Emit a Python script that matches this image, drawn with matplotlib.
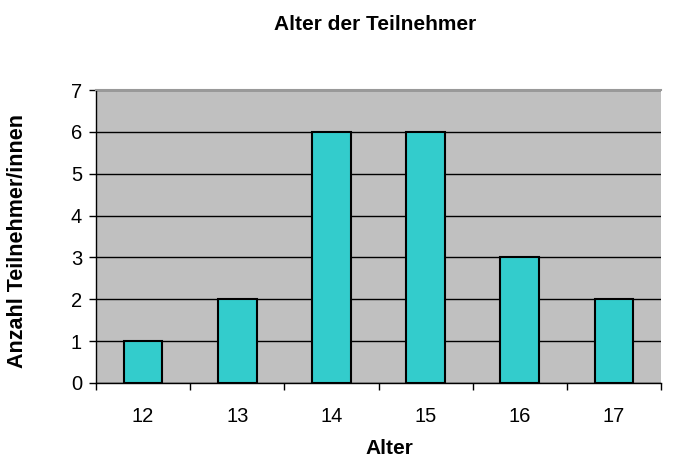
import matplotlib
matplotlib.use("Agg")
import matplotlib.pyplot as plt
import numpy as np

plt.rcParams['font.family'] = ['Liberation Sans', 'DejaVu Sans']

# === Daten ===
alter = ['12', '13', '14', '15', '16', '17']
anzahl = [1, 2, 6, 6, 3, 2]

W, H = 679, 462
fig = plt.figure(figsize=(W / 100, H / 100), dpi=100)
ax = fig.add_axes([96 / W, 79 / H, 565 / W, 293 / H])
ax.set_facecolor('#C0C0C0')

x = np.arange(len(alter))
ax.bar(x, anzahl, width=0.41, color='#33CCCC', edgecolor='black', linewidth=1.5, zorder=3)

ax.set_xlim(-0.5, len(alter) - 0.5)
ax.set_ylim(0, 7)
ax.set_yticks(range(0, 8))
ax.yaxis.grid(True, color='black', linewidth=1, zorder=1)
ax.set_axisbelow(True)

# Striche zwischen den Kategorien
ax.set_xticks(np.arange(-0.5, len(alter) + 0.5, 1))
ax.set_xticklabels([])
ax.set_xticks(x, minor=True)
ax.set_xticklabels(alter, minor=True)
ax.tick_params(axis='x', which='minor', length=0, pad=17, labelsize=14.5)
ax.tick_params(axis='x', which='major', length=5, width=1, direction='out')
ax.tick_params(axis='y', length=5, width=1, direction='out', labelsize=14.5, pad=5)

ax.spines['right'].set_visible(False)
ax.spines['top'].set_color('#999999')
ax.spines['top'].set_linewidth(1.5)
ax.spines['left'].set_linewidth(1)
ax.spines['bottom'].set_linewidth(1)

fig.text(389.5 / W, 1 - 448 / H, 'Alter', ha='center', va='center',
         fontsize=15, fontweight='bold')
fig.text(17.5 / W, 1 - 241 / H, 'Anzahl Teilnehmer/innen', ha='center', va='center',
         rotation=90, fontsize=15.5, fontweight='bold')
fig.text(375 / W, 1 - 25 / H, 'Alter der Teilnehmer',
         ha='center', va='center', fontsize=15, fontweight='bold')

fig.savefig('out.png', dpi=100)
